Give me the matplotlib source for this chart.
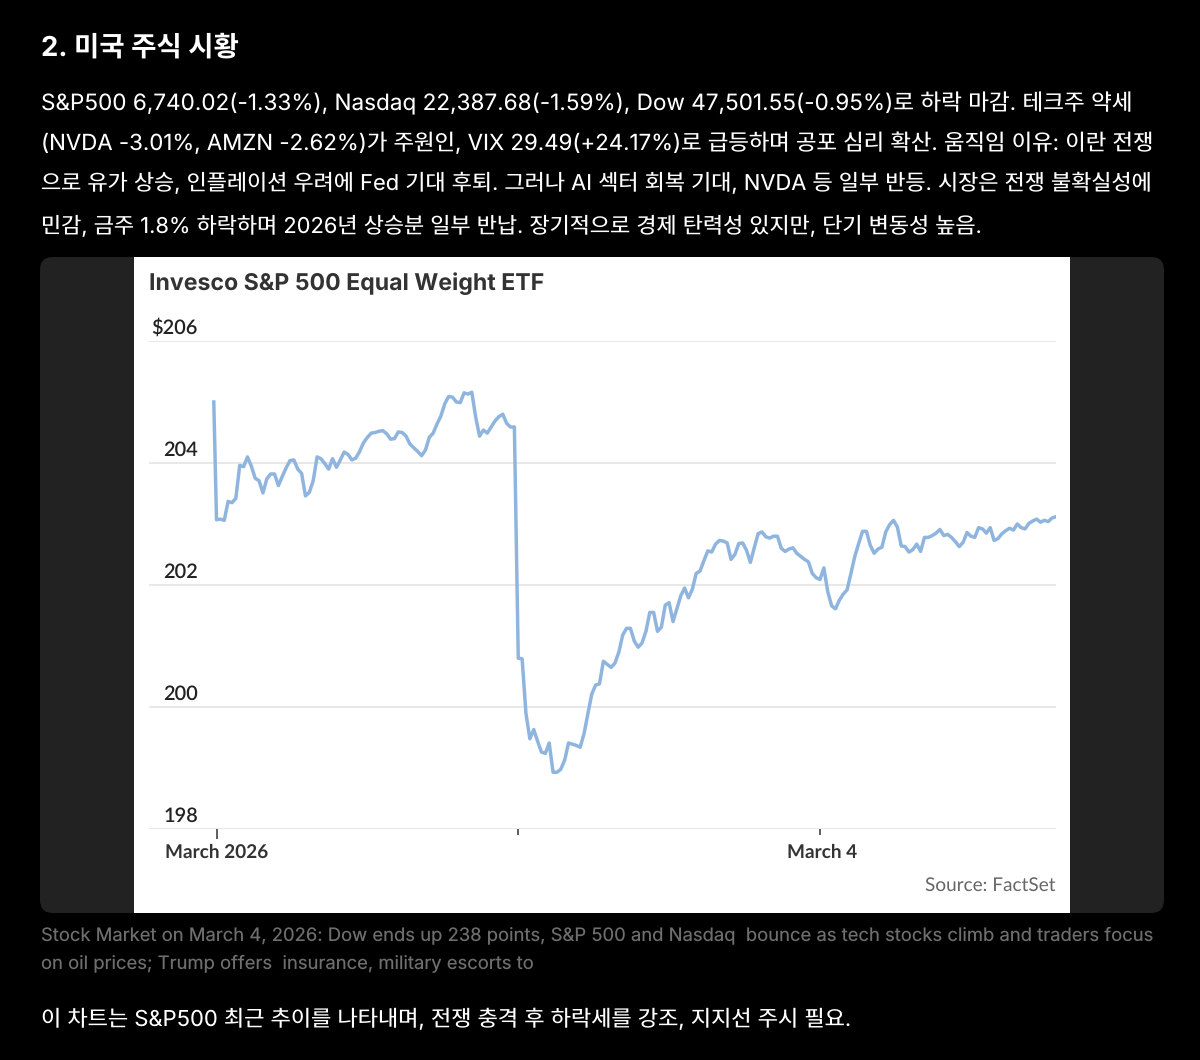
# -*- coding: utf-8 -*-
import numpy as np
import matplotlib
matplotlib.use("Agg")
import matplotlib.pyplot as plt
from matplotlib.patches import FancyBboxPatch, Rectangle

plt.rcParams['text.hinting'] = 'no_hinting'
plt.rcParams['text.hinting_factor'] = 1

KR_FONT = ['Inter', 'Noto Sans CJK KR', 'DejaVu Sans']
CHART_FONT = ['Lato', 'DejaVu Sans']

# price per bar
prices_first_part = [
    205.00, 203.07, 203.08, 203.06, 203.37, 203.35, 203.42, 203.96, 203.94, 204.10,
    203.95, 203.75, 203.71, 203.51, 203.74, 203.82, 203.82, 203.63, 203.78, 203.92,
    204.04, 204.05, 203.90, 203.83, 203.46, 203.52, 203.71, 204.10, 204.07, 203.99,
    203.90, 204.07, 203.93, 204.05, 204.18, 204.14, 204.05, 204.08, 204.19, 204.33,
    204.42, 204.49, 204.50, 204.52, 204.53, 204.48, 204.39, 204.40, 204.51, 204.50,
    204.44, 204.31, 204.25, 204.19, 204.12, 204.21, 204.42, 204.49, 204.64, 204.77,
    204.97, 205.09, 205.08, 205.00, 204.99, 205.15, 205.13, 205.16, 204.75, 204.44,
    204.54, 204.49, 204.59, 204.69, 204.76, 204.80, 204.65, 204.59, 204.59,
]
prices_drop_part = [
    200.80, 200.79, 199.89, 199.48, 199.63, 199.44, 199.26, 199.24, 199.41, 198.93,
    198.93, 198.98, 199.13, 199.41, 199.39, 199.37, 199.34, 199.56, 199.89, 200.21,
    200.36, 200.38, 200.75, 200.70, 200.65, 200.72, 200.90, 201.18, 201.29, 201.29,
    201.08, 200.98, 201.05, 201.24, 201.55, 201.55, 201.24, 201.31, 201.67, 201.71,
    201.40, 201.61, 201.82, 201.95, 201.79, 201.93, 202.19, 202.23, 202.40, 202.56,
    202.54, 202.67, 202.73, 202.72, 202.69, 202.42, 202.50, 202.68, 202.69, 202.57,
    202.37, 202.61, 202.84, 202.87, 202.79, 202.77, 202.80, 202.80, 202.60,
]
prices_last_part = [
    202.55, 202.59, 202.61, 202.52, 202.47, 202.42, 202.38, 202.19, 202.12, 202.09,
    202.28, 201.89, 201.66, 201.61, 201.75, 201.85, 201.92, 202.19, 202.47, 202.68,
    202.88, 202.88, 202.65, 202.52, 202.59, 202.62, 202.87, 202.99, 203.06, 202.95,
    202.64, 202.63, 202.54, 202.58, 202.67, 202.55, 202.78, 202.78, 202.81, 202.85,
    202.91, 202.81, 202.83, 202.78, 202.71, 202.63, 202.70, 202.86, 202.80, 202.78,
    202.94, 202.92, 202.85, 202.94, 202.73, 202.76, 202.84, 202.89, 202.93, 202.90,
    203.00, 202.94, 202.92, 203.01, 203.05, 203.08, 203.03, 203.06, 203.04, 203.10,
    203.12,
]
prices = prices_first_part + prices_drop_part + prices_last_part

y_ticks = [198, 200, 202, 204, 206]
y_labels = ['198', '200', '202', '204', '$206']
x_ticks = [1, 79, 157]
x_labels = ['March 2026', '', 'March 4']

body_lines = [
    "S&P500 6,740.02(-1.33%), Nasdaq 22,387.68(-1.59%), Dow 47,501.55(-0.95%)로 하락 마감. 테크주 약세",
    "(NVDA -3.01%, AMZN -2.62%)가 주원인, VIX 29.49(+24.17%)로 급등하며 공포 심리 확산. 움직임 이유: 이란 전쟁",
    "으로 유가 상승, 인플레이션 우려에 Fed 기대 후퇴. 그러나 AI 섹터 회복 기대, NVDA 등 일부 반등. 시장은 전쟁 불확실성에",
    "민감, 금주 1.8% 하락하며 2026년 상승분 일부 반납. 장기적으로 경제 탄력성 있지만, 단기 변동성 높음.",
]
body_sizes = [16.23, 16.03, 15.77, 15.78]
caption_lines = [
    "Stock Market on March 4, 2026: Dow ends up 238 points, S&P 500 and Nasdaq  bounce as tech stocks climb and traders focus",
    "on oil prices; Trump offers  insurance, military escorts to",
]
closing_line = "이 차트는 S&P500 최근 추이를 나타내며, 전쟁 충격 후 하락세를 강조, 지지선 주시 필요."

W, H = 1200, 1060
fig = plt.figure(figsize=(W / 100, H / 100), dpi=100, facecolor='black')

# page layer, in pixels
page = fig.add_axes([0, 0, 1, 1])
page.set_xlim(0, W)
page.set_ylim(H, 0)
page.axis('off')
page.add_patch(FancyBboxPatch((40, 257), 1124, 656, boxstyle="round,pad=0,rounding_size=13",
                              fc='#222222', ec='none'))
page.add_patch(Rectangle((134, 257), 936, 656, fc='white', ec='none'))

page.text(41, 48, "2. 미국 주식 시황", color='white', fontsize=19.8, fontweight='bold',
          family=KR_FONT, va='center')
for y, line, size in zip([103, 143, 184, 226], body_lines, body_sizes):
    page.text(41, y, line, color='white', fontsize=size, family=KR_FONT, va='center')
for y, line in zip([935, 964], caption_lines):
    page.text(41, y, line, color='#6e6e6e', fontsize=13.28, family=KR_FONT, va='center')
page.text(41, 1020, closing_line, color='white', fontsize=15.85, family=KR_FONT, va='center')

page.text(149, 284, "Invesco S&P 500 Equal Weight ETF", color='#333333', fontsize=16.65,
          fontweight='bold', family=['Inter', 'DejaVu Sans'], va='center')
page.text(1056, 885, "Source: FactSet", color='#666666', fontsize=13.6, family=CHART_FONT,
          va='center', ha='right')

# chart
ax = fig.add_axes([149 / W, 1 - 829 / H, (1056 - 149) / W, (829 - 341) / H])
ax.patch.set_alpha(0)
x = np.arange(len(prices), dtype=float)
x[0] = 0.3
ax.plot(x, prices, color='#8fb5df', lw=2.5, solid_joinstyle='round')

step = (820 - 216.5) / 156
ax.set_xlim(1 - (216.5 - 149) / step, 1 + (1056 - 216.5) / step)
ax.set_ylim(198, 206)
for s in ax.spines.values():
    s.set_visible(False)
ax.set_yticks(y_ticks)
ax.set_yticklabels([])
ax.tick_params(axis='y', length=0)
ax.grid(axis='y', color='#e4e4e4', lw=1.2)
ax.set_axisbelow(True)
ax.set_xticks(x_ticks)
ax.set_xticklabels([])
ax.tick_params(axis='x', width=1.1, color='#333333')
for tick, size in zip(ax.xaxis.get_major_ticks(), [7, 4.5, 4.5]):
    tick.tick1line.set_markersize(size)

for v, label in zip(y_ticks, y_labels):
    ax.annotate(label, (0, v), xycoords=('axes fraction', 'data'), xytext=(49, 13),
                textcoords='offset pixels', ha='right', va='center', color='#222222',
                fontsize=14.2, fontweight='semibold', family=CHART_FONT)
for v, label in zip(x_ticks, x_labels):
    ax.annotate(label, (v, 0), xycoords=('data', 'axes fraction'), xytext=(2 if v == 157 else 0, -23),
                textcoords='offset pixels', ha='center', va='center', color='#333333',
                fontsize=13.7, fontweight='bold', family=CHART_FONT)

fig.savefig('out.png', dpi=100, facecolor=fig.get_facecolor())
